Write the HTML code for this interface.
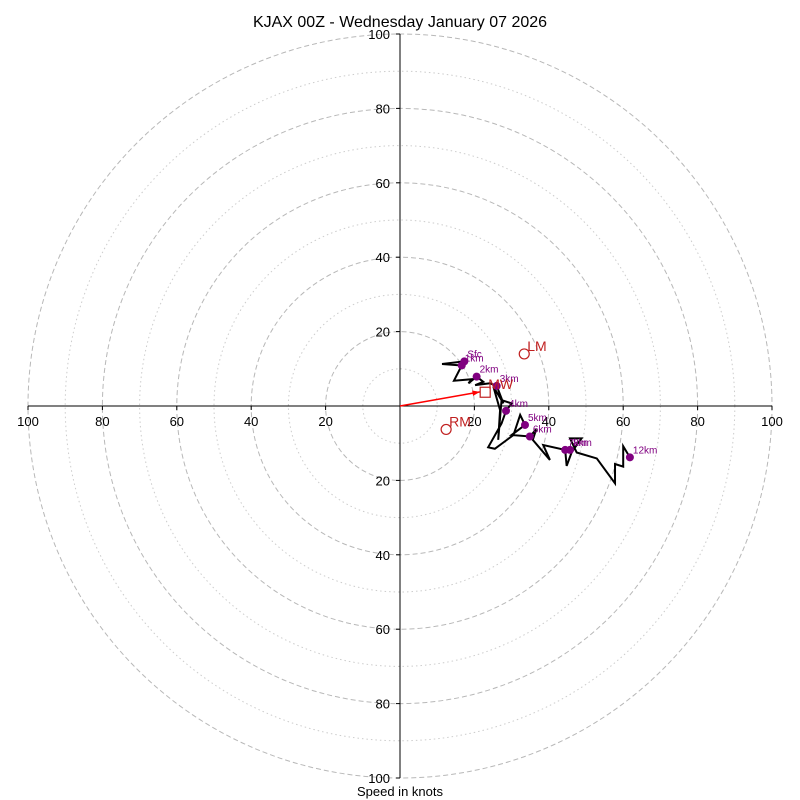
<!DOCTYPE html>
<html><head><meta charset="utf-8"><style>
body{margin:0;background:#fff;}
svg{display:block;font-family:"Liberation Sans","DejaVu Sans",sans-serif;}
</style></head><body>
<svg id="chart" width="800" height="800" viewBox="0 0 800 800">
<text x="400" y="27" text-anchor="middle" font-size="16">KJAX 00Z - Wednesday January 07 2026</text>
<text x="400" y="796" text-anchor="middle" font-size="13">Speed in knots</text>
<g id="rings"></g><g id="axes"></g><g id="trace"></g><g id="marks"></g>
</svg>
<script>
const ringValues=[10,20,30,40,50,60,70,80,90,100];
const tickLabels=[20,40,60,80,100];
const windU=[17.3,11.3,16.6,14.5,19.3,18.4,20.6,22.4,20.2,24.2,26.0,27.8,25.1,26.9,26.4,27.3,30.0,28.5,27.3,23.7,25.5,30.5,32.3,33.6,30.0,34.9,36.6,35.7,40.3,38.5,44.4,44.8,46.2,48.8,45.7,47.5,52.9,57.8,57.8,60.0,60.0,61.8];
const windV=[12.0,11.3,10.9,6.8,7.2,6.1,7.9,6.5,5.6,6.1,5.4,0.7,5.2,-1.1,-9.1,1.6,0.7,-1.3,-4.7,-11.1,-11.5,-7.8,-2.4,-5.1,-7.8,-8.2,-6.3,-9.1,-14.5,-10.5,-11.8,-16.1,-12.3,-8.7,-8.7,-12.5,-14.1,-20.8,-15.6,-16.3,-10.8,-13.8];
const markerLabels=["Sfc","1km","2km","3km","4km","5km","6km","7km","8km","12km"];
const markerU=[17.3,16.6,20.6,26.0,28.5,33.6,34.9,44.4,45.7,61.8];
const markerV=[12.0,10.9,7.9,5.4,-1.3,-5.1,-8.2,-11.8,-11.8,-13.8];
const lmUV=[33.4,14.0], rmUV=[12.4,-6.3], mwUV=[22.9,3.7], arrowUV=[21.5,3.8];
const NS="http://www.w3.org/2000/svg";
const cx=400,cy=406,k=3.72;
const X=u=>cx+u*k, Y=v=>cy-v*k;
function mk(p,t,a){const e=document.createElementNS(NS,t);for(const n in a)e.setAttribute(n,a[n]);document.getElementById(p).appendChild(e);return e;}
ringValues.forEach(r=>{const e=mk('rings','circle',{cx:cx,cy:cy,r:r*k,fill:'none',stroke:r%20?'#ccc':'#b8b8b8','stroke-width':1,'stroke-dasharray':r%20?'1.5,3':'5,3'});

});
let e=mk('axes','line',{x1:X(-100),y1:cy,x2:X(100),y2:cy,stroke:'#000'});


e=mk('axes','line',{x1:cx,y1:Y(100),x2:cx,y2:Y(-100),stroke:'#000'});


tickLabels.forEach(t=>{[-1,1].forEach(s=>{
 let a=mk('axes','text',{x:X(s*t),y:cy+20,'text-anchor':'middle','font-size':13});a.textContent=t;
 
 
 let b=mk('axes','text',{x:cx-10,y:Y(s*t)+5,'text-anchor':'end','font-size':13});b.textContent=t;
 
 
 mk('axes','line',{x1:X(s*t),y1:cy,x2:X(s*t),y2:cy+4,stroke:'#000'});
 mk('axes','line',{x1:cx,y1:Y(s*t),x2:cx-4,y2:Y(s*t),stroke:'#000'});
});});
e=mk('trace','polyline',{points:windU.map((u,i)=>X(u)+','+Y(windV[i])).join(' '),fill:'none',stroke:'#000','stroke-width':2});


markerLabels.forEach((l,i)=>{
 let c=mk('marks','circle',{cx:X(markerU[i]),cy:Y(markerV[i]),r:4,fill:'#800080'});
 
 
 let t=mk('marks','text',{x:X(markerU[i])+3,y:Y(markerV[i])-4,'font-size':10,fill:'#800080'});t.textContent=l;
 
 
});
e=mk('marks','line',{x1:cx,y1:cy,x2:X(arrowUV[0]),y2:Y(arrowUV[1]),stroke:'red','stroke-width':1.5});


const ang=Math.atan2(Y(arrowUV[1])-cy,X(arrowUV[0])-cx),tx=X(arrowUV[0]),ty=Y(arrowUV[1]);
e=mk('marks','polygon',{points:`${tx},${ty} ${tx-8*Math.cos(ang-0.35)},${ty-8*Math.sin(ang-0.35)} ${tx-8*Math.cos(ang+0.35)},${ty-8*Math.sin(ang+0.35)}`,fill:'red'});


[['LM',lmUV],['RM',rmUV]].forEach(([n,p])=>{
 let c=mk('marks','circle',{cx:X(p[0]),cy:Y(p[1]),r:5,fill:'none',stroke:'#c02020','stroke-width':1.2});
 
 
 let t=mk('marks','text',{x:X(p[0])+3,y:Y(p[1])-3,'font-size':14,fill:'#c02020'});t.textContent=n;
 
 
});
e=mk('marks','rect',{x:X(mwUV[0])-5,y:Y(mwUV[1])-5,width:10,height:10,fill:'none',stroke:'#c02020','stroke-width':1.2});


e=mk('marks','text',{x:X(mwUV[0])+3,y:Y(mwUV[1])-3,'font-size':14,fill:'#c02020'});e.textContent='MW';


</script>
</body></html>
